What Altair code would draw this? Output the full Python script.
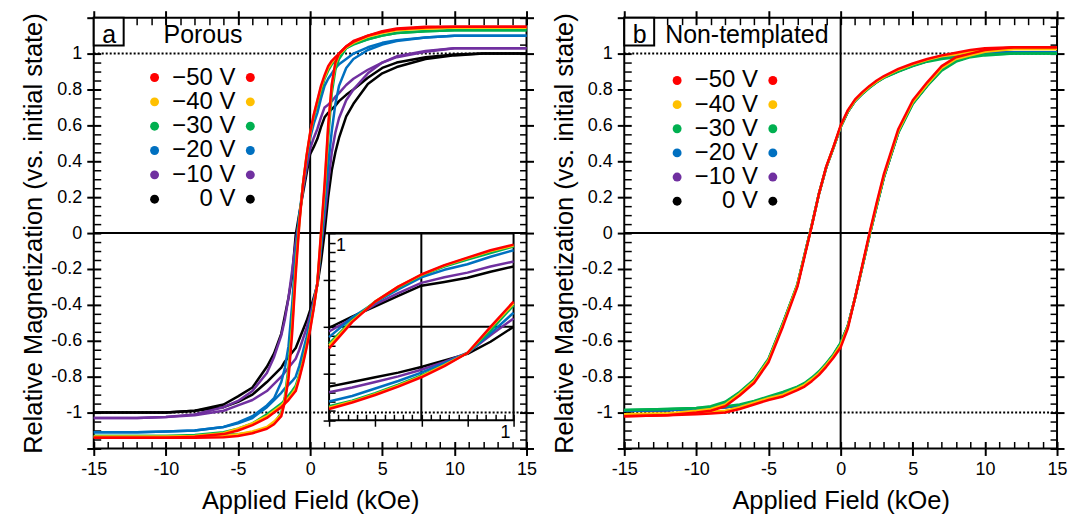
import altair as alt
import pandas as pd

FONT = "Liberation Sans"
PW, PH = 434, 432

# ---------------- series / colours ----------------
SERIES = ["0 V", "−10 V", "−20 V", "−30 V", "−40 V", "−50 V"]          # drawing order
COLORS = ["#000000", "#7030A0", "#0070C0", "#00B050", "#FFC000", "#FF0000"]
LEGEND_ORDER = ["−50 V", "−40 V", "−30 V", "−20 V", "−10 V", "0 V"]
LEGEND_COLORS = ["#FF0000", "#FFC000", "#00B050", "#0070C0", "#7030A0", "#000000"]

# ---------------- ticks ----------------
X_TICKS = [-15, -10, -5, 0, 5, 10, 15]
X_MINOR = [-14, -13, -12, -11, -9, -8, -7, -6, -4, -3, -2, -1,
           1, 2, 3, 4, 6, 7, 8, 9, 11, 12, 13, 14]
Y_TICKS = [-1.0, -0.8, -0.6, -0.4, -0.2, 0, 0.2, 0.4, 0.6, 0.8, 1.0]
Y_EDGE = [-1.2, 1.2]
Y_MINOR = [-1.15, -1.1, -1.05, -0.95, -0.9, -0.85, -0.75, -0.7, -0.65, -0.55, -0.5, -0.45,
           -0.35, -0.3, -0.25, -0.15, -0.1, -0.05, 0.05, 0.1, 0.15, 0.25, 0.3, 0.35,
           0.45, 0.5, 0.55, 0.65, 0.7, 0.75, 0.85, 0.9, 0.95, 1.05, 1.1, 1.15]
INSET_TICKS = [-1, -0.5, 0, 0.5, 1]
INSET_MINOR = [-0.9, -0.8, -0.7, -0.6, -0.4, -0.3, -0.2, -0.1,
               0.1, 0.2, 0.3, 0.4, 0.6, 0.7, 0.8, 0.9]

# ---------------- panel a : Porous ----------------
X_A = [-15, -12, -10, -8, -6, -5, -4, -3, -2.5, -2, -1.75, -1.5, -1.25, -1, -0.75,
       -0.5, -0.25, 0, 0.25, 0.5, 0.75, 1, 1.25, 1.5, 1.75, 2, 2.5, 3, 4, 5, 6, 8, 10, 12, 15]

A_UP_RED = [-1.14, -1.14, -1.14, -1.14, -1.137, -1.13, -1.115, -1.09, -1.065, -1.02, -0.94, -0.81,
            -0.56, -0.23, 0.05, 0.27, 0.43, 0.56, 0.66, 0.74, 0.82, 0.88, 0.93, 0.96, 0.98, 1.00,
            1.04, 1.065, 1.10, 1.125, 1.14, 1.15, 1.15, 1.15, 1.15]
A_LO_RED = [-1.14, -1.14, -1.14, -1.135, -1.12, -1.10, -1.07, -1.03, -1.0, -0.97, -0.95, -0.93,
            -0.905, -0.88, -0.81, -0.73, -0.64, -0.54, -0.42, -0.28, 0.0, 0.27, 0.60, 0.83, 0.95,
            1.0, 1.04, 1.07, 1.10, 1.12, 1.135, 1.145, 1.15, 1.15, 1.15]
A_UP_ORA = [-1.135, -1.135, -1.135, -1.135, -1.13, -1.12, -1.105, -1.08, -1.05, -1.01, -0.925, -0.78,
            -0.53, -0.2, 0.06, 0.27, 0.43, 0.555, 0.655, 0.735, 0.81, 0.87, 0.92, 0.95, 0.975,
            0.995, 1.035, 1.06, 1.095, 1.12, 1.135, 1.14, 1.145, 1.145, 1.145]
A_LO_ORA = [-1.135, -1.135, -1.135, -1.13, -1.115, -1.09, -1.06, -1.02, -0.99, -0.96, -0.94, -0.92,
            -0.895, -0.865, -0.80, -0.72, -0.63, -0.53, -0.41, -0.28, -0.01, 0.25, 0.58, 0.82,
            0.94, 0.995, 1.035, 1.065, 1.095, 1.115, 1.13, 1.14, 1.145, 1.145, 1.145]
A_UP_GRN = [-1.13, -1.13, -1.13, -1.13, -1.125, -1.12, -1.11, -1.085, -1.06, -1.0, -0.91, -0.75,
            -0.49, -0.18, 0.07, 0.27, 0.42, 0.55, 0.645, 0.72, 0.79, 0.86, 0.905, 0.94, 0.965,
            0.99, 1.03, 1.05, 1.08, 1.10, 1.115, 1.125, 1.13, 1.13, 1.13]
A_LO_GRN = [-1.13, -1.13, -1.13, -1.125, -1.11, -1.09, -1.06, -1.01, -0.98, -0.95, -0.93, -0.905,
            -0.88, -0.85, -0.79, -0.71, -0.62, -0.52, -0.41, -0.28, -0.04, 0.23, 0.53, 0.78,
            0.91, 0.97, 1.03, 1.055, 1.08, 1.10, 1.115, 1.125, 1.13, 1.13, 1.13]
A_UP_BLU = [-1.11, -1.11, -1.105, -1.10, -1.08, -1.055, -1.02, -0.96, -0.92, -0.83, -0.75, -0.63,
            -0.40, -0.11, 0.10, 0.26, 0.40, 0.53, 0.61, 0.67, 0.75, 0.82, 0.86, 0.89, 0.92,
            0.94, 0.97, 1.0, 1.035, 1.06, 1.075, 1.09, 1.10, 1.10, 1.10]
A_LO_BLU = [-1.11, -1.11, -1.105, -1.10, -1.08, -1.06, -1.03, -0.97, -0.93, -0.89, -0.865, -0.845,
            -0.825, -0.80, -0.74, -0.66, -0.58, -0.49, -0.39, -0.28, -0.07, 0.15, 0.38, 0.57,
            0.72, 0.82, 0.92, 0.97, 1.02, 1.05, 1.07, 1.09, 1.10, 1.10, 1.10]
A_UP_PUR = [-1.03, -1.03, -1.025, -1.01, -0.97, -0.935, -0.88, -0.78, -0.69, -0.57, -0.48, -0.36,
            -0.21, -0.05, 0.09, 0.24, 0.36, 0.47, 0.53, 0.58, 0.645, 0.70, 0.715, 0.735, 0.76,
            0.78, 0.825, 0.86, 0.91, 0.95, 0.98, 1.01, 1.03, 1.03, 1.03]
A_LO_PUR = [-1.03, -1.03, -1.025, -1.015, -0.99, -0.96, -0.93, -0.88, -0.84, -0.80, -0.775, -0.75,
            -0.725, -0.70, -0.65, -0.59, -0.53, -0.46, -0.375, -0.28, -0.09, 0.09, 0.28, 0.45,
            0.56, 0.64, 0.74, 0.80, 0.89, 0.95, 0.985, 1.015, 1.03, 1.03, 1.03]
A_UP_BLK = [-1.0, -1.0, -1.0, -0.99, -0.955, -0.91, -0.86, -0.745, -0.67, -0.56, -0.46, -0.36,
            -0.24, -0.01, 0.11, 0.22, 0.33, 0.44, 0.48, 0.525, 0.59, 0.645, 0.67, 0.69, 0.71,
            0.735, 0.77, 0.80, 0.865, 0.92, 0.95, 0.98, 0.995, 1.0, 1.0]
A_LO_BLK = [-1.0, -1.0, -1.0, -0.99, -0.97, -0.94, -0.90, -0.83, -0.79, -0.75, -0.715, -0.69,
            -0.665, -0.64, -0.59, -0.54, -0.49, -0.43, -0.36, -0.29, -0.16, 0.0, 0.2, 0.35,
            0.45, 0.53, 0.65, 0.72, 0.83, 0.89, 0.925, 0.97, 0.99, 1.0, 1.0]

# ---------------- panel b : Non-templated ----------------
X_B = [-15, -12, -10, -9, -8, -7, -6, -5, -4, -3, -2.5, -2, -1.5, -1, -0.5, 0,
       0.5, 1, 1.5, 2, 2.5, 3, 4, 5, 6, 7, 8, 9, 10, 12, 15]

B_UP_RED = [-1.02, -1.015, -1.0, -0.99, -0.965, -0.905, -0.835, -0.72, -0.52, -0.30, -0.13, 0.04,
            0.22, 0.37, 0.48, 0.60, 0.685, 0.745, 0.785, 0.82, 0.85, 0.875, 0.915, 0.945, 0.97,
            0.99, 1.005, 1.02, 1.03, 1.035, 1.035]
B_LO_RED = [-1.02, -1.015, -1.01, -1.005, -1.0, -0.98, -0.955, -0.93, -0.91, -0.875, -0.855, -0.825,
            -0.79, -0.745, -0.695, -0.637, -0.53, -0.36, -0.18, 0.0, 0.17, 0.33, 0.58, 0.74,
            0.84, 0.93, 0.98, 1.0, 1.02, 1.035, 1.035]
B_UP_ORA = [-1.01, -1.005, -0.99, -0.98, -0.955, -0.895, -0.825, -0.71, -0.51, -0.29, -0.125, 0.042,
            0.22, 0.368, 0.478, 0.595, 0.68, 0.74, 0.78, 0.815, 0.845, 0.87, 0.91, 0.94, 0.965,
            0.985, 0.995, 1.01, 1.02, 1.025, 1.025]
B_LO_ORA = [-1.01, -1.005, -1.0, -0.995, -0.99, -0.97, -0.945, -0.92, -0.9, -0.865, -0.845, -0.815,
            -0.78, -0.735, -0.685, -0.625, -0.522, -0.36, -0.185, -0.008, 0.16, 0.32, 0.57, 0.73,
            0.83, 0.92, 0.97, 0.99, 1.01, 1.025, 1.025]
B_UP_GRN = [-0.985, -0.98, -0.975, -0.965, -0.94, -0.885, -0.815, -0.70, -0.50, -0.285, -0.12, 0.045,
            0.22, 0.365, 0.475, 0.59, 0.675, 0.735, 0.775, 0.81, 0.84, 0.865, 0.90, 0.93, 0.955,
            0.97, 0.98, 0.99, 0.995, 1.0, 1.0]
B_LO_GRN = [-0.985, -0.98, -0.975, -0.97, -0.965, -0.955, -0.935, -0.91, -0.885, -0.855, -0.835,
            -0.805, -0.77, -0.725, -0.675, -0.61, -0.515, -0.36, -0.19, -0.015, 0.15, 0.31, 0.56,
            0.72, 0.82, 0.905, 0.955, 0.98, 0.99, 1.0, 1.0]
B_UP_BLU = [-0.99, -0.985, -0.98, -0.97, -0.945, -0.89, -0.82, -0.705, -0.505, -0.29, -0.122, 0.044,
            0.22, 0.366, 0.476, 0.592, 0.677, 0.737, 0.777, 0.812, 0.842, 0.867, 0.903, 0.933,
            0.958, 0.975, 0.987, 0.997, 1.003, 1.008, 1.008]
B_LO_BLU = [-0.99, -0.985, -0.98, -0.975, -0.97, -0.96, -0.94, -0.915, -0.89, -0.86, -0.84, -0.81,
            -0.775, -0.73, -0.68, -0.615, -0.518, -0.36, -0.188, -0.012, 0.152, 0.313, 0.563,
            0.723, 0.823, 0.91, 0.96, 0.985, 0.997, 1.008, 1.008]
B_UP_PUR = [-0.99, -0.985, -0.98, -0.97, -0.945, -0.89, -0.82, -0.705, -0.505, -0.29, -0.122, 0.044,
            0.22, 0.366, 0.476, 0.592, 0.677, 0.737, 0.777, 0.812, 0.842, 0.867, 0.903, 0.933,
            0.958, 0.975, 0.987, 0.997, 1.003, 1.008, 1.008]
B_LO_PUR = [-0.99, -0.985, -0.98, -0.975, -0.97, -0.96, -0.94, -0.915, -0.89, -0.86, -0.84, -0.81,
            -0.775, -0.73, -0.68, -0.615, -0.518, -0.36, -0.188, -0.012, 0.152, 0.313, 0.563,
            0.723, 0.823, 0.91, 0.96, 0.985, 0.997, 1.008, 1.008]
B_UP_BLK = [-0.99, -0.985, -0.98, -0.97, -0.945, -0.89, -0.82, -0.705, -0.505, -0.29, -0.122, 0.044,
            0.22, 0.366, 0.476, 0.592, 0.677, 0.737, 0.777, 0.812, 0.842, 0.867, 0.903, 0.933,
            0.958, 0.975, 0.987, 0.997, 1.003, 1.008, 1.008]
B_LO_BLK = [-0.99, -0.985, -0.98, -0.975, -0.97, -0.96, -0.94, -0.915, -0.89, -0.86, -0.84, -0.81,
            -0.775, -0.73, -0.68, -0.615, -0.518, -0.36, -0.188, -0.012, 0.152, 0.313, 0.563,
            0.723, 0.823, 0.91, 0.96, 0.985, 0.997, 1.008, 1.008]

A_UP = dict(zip(SERIES, [A_UP_BLK, A_UP_PUR, A_UP_BLU, A_UP_GRN, A_UP_ORA, A_UP_RED]))
A_LO = dict(zip(SERIES, [A_LO_BLK, A_LO_PUR, A_LO_BLU, A_LO_GRN, A_LO_ORA, A_LO_RED]))
B_UP = dict(zip(SERIES, [B_UP_BLK, B_UP_PUR, B_UP_BLU, B_UP_GRN, B_UP_ORA, B_UP_RED]))
B_LO = dict(zip(SERIES, [B_LO_BLK, B_LO_PUR, B_LO_BLU, B_LO_GRN, B_LO_ORA, B_LO_RED]))


def long_df(xs, up, lo):
    rows = []
    for s in SERIES:
        for x, y in zip(xs, up[s]):
            rows.append({"series": s, "branch": "up", "x": x, "y": y})
        for x, y in zip(xs, lo[s]):
            rows.append({"series": s, "branch": "lo", "x": x, "y": y})
    return pd.DataFrame(rows)


DF_A = long_df(X_A, A_UP, A_LO)
DF_B = long_df(X_B, B_UP, B_LO)
ANCHOR = pd.DataFrame({"x": [0.0], "y": [0.0]})

LAB = "datum.value < 0 ? '-' + (-datum.value) : '' + datum.value"


def sx():
    return alt.Scale(domain=[-15, 15], nice=False, zero=False)


def sy():
    return alt.Scale(domain=[-1.2, 1.2], nice=False, zero=False)


def major(orient, values, labels=False, title=None, title_pad=2, size=14, off=-7):
    kw = dict(orient=orient, values=values, tickSize=size, offset=off, tickWidth=2,
              tickColor="black", domain=False, grid=False, title=title)
    if labels:
        kw.update(labels=True, labelExpr=LAB, labelFont=FONT, labelFontSize=18,
                  labelColor="black", labelPadding=5, labelFlush=False, labelOverlap=False)
    else:
        kw.update(labels=False)
    if title:
        kw.update(titleFont=FONT, titleFontSize=25.5, titleFontWeight="normal",
                  titleColor="black", titlePadding=title_pad)
    return alt.Axis(**kw)


def minor(orient, values, size=7, off=-7):
    return alt.Axis(orient=orient, values=values, tickSize=size, offset=off, tickWidth=1.5,
                    tickColor="black", domain=False, grid=False, labels=False, title=None)


def axis_chart(ax_x, ax_y, scx=sx, scy=sy):
    enc = {"y": alt.Y("y:Q", scale=scy(), axis=ax_y)}
    if ax_x is not None:
        enc["x"] = alt.X("x:Q", scale=scx(), axis=ax_x)
    else:
        enc["x"] = alt.X("x:Q", scale=scx(), axis=None)
    return alt.Chart(ANCHOR).mark_point(opacity=0).encode(**enc)


def panel(df, leg_x, leg_rows, letter, name, name_x, with_inset):
    layers = [
        axis_chart(major("bottom", X_TICKS, True, "Applied Field (kOe)", 10),
                   major("left", Y_TICKS, True, "Relative Magnetization (vs. initial state)", 4)),
        axis_chart(minor("bottom", X_MINOR), minor("left", Y_MINOR)),
        axis_chart(major("top", X_TICKS), major("right", Y_TICKS + Y_EDGE)),
        axis_chart(minor("top", X_MINOR), minor("right", Y_MINOR)),
        axis_chart(None, major("left", Y_EDGE)),
    ]
    # reference lines
    layers.append(alt.Chart(pd.DataFrame({"y": [-1.0, 1.0]})).mark_rule(
        color="black", strokeWidth=2, strokeDash=[2, 2]).encode(
        y=alt.Y("y:Q", scale=sy(), axis=None)))
    layers.append(alt.Chart(pd.DataFrame({"x": [0.0]})).mark_rule(
        color="black", strokeWidth=2).encode(x=alt.X("x:Q", scale=sx(), axis=None)))
    layers.append(alt.Chart(pd.DataFrame({"y": [0.0]})).mark_rule(
        color="black", strokeWidth=2).encode(y=alt.Y("y:Q", scale=sy(), axis=None)))
    # data
    for s, c in zip(SERIES, COLORS):
        layers.append(alt.Chart(df[df.series == s]).mark_line(
            color=c, strokeWidth=2.5, strokeJoin="round").encode(
            x=alt.X("x:Q", scale=sx(), axis=None),
            y=alt.Y("y:Q", scale=sy(), axis=None),
            detail="branch:N"))

    if with_inset:
        def xi():
            return alt.Scale(domain=[-1, 1], range=[236, 421], nice=False, zero=False)

        def yi():
            return alt.Scale(domain=[-1, 1], range=[403.7, 216.3], nice=False, zero=False)

        frame = pd.DataFrame({"x0": [-1], "x1": [1], "y0": [-1], "y1": [1]})
        layers.append(alt.Chart(frame).mark_rect(
            fill="white", fillOpacity=0, stroke="black", strokeWidth=2).encode(
            x=alt.X("x0:Q", scale=xi(), axis=None), x2="x1:Q",
            y=alt.Y("y0:Q", scale=yi(), axis=None), y2="y1:Q"))
        vz = pd.DataFrame({"x": [0], "y0": [-1], "y1": [1]})
        layers.append(alt.Chart(vz).mark_rule(color="black", strokeWidth=2).encode(
            x=alt.X("x:Q", scale=xi(), axis=None),
            y=alt.Y("y0:Q", scale=yi(), axis=None), y2="y1:Q"))
        hz = pd.DataFrame({"y": [0], "x0": [-1], "x1": [1]})
        layers.append(alt.Chart(hz).mark_rule(color="black", strokeWidth=2).encode(
            y=alt.Y("y:Q", scale=yi(), axis=None),
            x=alt.X("x0:Q", scale=xi(), axis=None), x2="x1:Q"))
        sub_all = df[(df.x >= -1) & (df.x <= 1)]
        for s, c in zip(SERIES, COLORS):
            layers.append(alt.Chart(sub_all[sub_all.series == s]).mark_line(
                color=c, strokeWidth=2.5, strokeJoin="round").encode(
                x=alt.X("x:Q", scale=xi(), axis=None),
                y=alt.Y("y:Q", scale=yi(), axis=None),
                detail="branch:N"))
        left_off = -(236 + 6)
        bot_off = -(PH - 403.7 + 6)
        layers.append(axis_chart(minor("bottom", INSET_TICKS, 12, bot_off),
                                 minor("left", INSET_TICKS, 12, left_off), xi, yi))
        layers.append(axis_chart(minor("bottom", INSET_MINOR, 6, bot_off),
                                 minor("left", INSET_MINOR, 6, left_off), xi, yi))
        lab = pd.DataFrame({"x": [-1, 1], "y": [1, -1], "t": ["1", "1"]})
        layers.append(alt.Chart(lab.iloc[[0]]).mark_text(
            font=FONT, fontSize=18, align="left", baseline="top", dx=7, dy=4, color="black").encode(
            x=alt.X("x:Q", scale=xi(), axis=None), y=alt.Y("y:Q", scale=yi(), axis=None), text="t:N"))
        layers.append(alt.Chart(lab.iloc[[1]]).mark_text(
            font=FONT, fontSize=18, align="right", baseline="top", dx=-3, dy=4, color="black").encode(
            x=alt.X("x:Q", scale=xi(), axis=None), y=alt.Y("y:Q", scale=yi(), axis=None), text="t:N"))

    # legend
    leg = pd.DataFrame({"label": LEGEND_ORDER, "row": list(range(6))})
    ly = alt.Y("row:Q", scale=alt.Scale(domain=[0, 5], range=leg_rows, nice=False, zero=False), axis=None)
    lc = alt.Color("label:N", scale=alt.Scale(domain=LEGEND_ORDER, range=LEGEND_COLORS), legend=None)
    layers.append(alt.Chart(leg).mark_circle(size=80, opacity=1).encode(
        x=alt.value(leg_x[0]), y=ly, color=lc))
    layers.append(alt.Chart(leg).mark_text(
        font=FONT, fontSize=24, align="right", baseline="middle", color="black").encode(
        x=alt.value(leg_x[1]), y=ly, text="label:N"))
    layers.append(alt.Chart(leg).mark_circle(size=80, opacity=1).encode(
        x=alt.value(leg_x[2]), y=ly, color=lc))

    # panel label
    layers.append(alt.Chart(ANCHOR).mark_rect(fill="white", stroke="black", strokeWidth=2).encode(
        x=alt.value(0), x2=alt.value(30), y=alt.value(0), y2=alt.value(28)))
    layers.append(alt.Chart(ANCHOR).mark_text(
        text=letter, font=FONT, fontSize=25, align="center", baseline="alphabetic", color="black").encode(
        x=alt.value(15.5), y=alt.value(25)))
    layers.append(alt.Chart(ANCHOR).mark_text(
        text=name, font=FONT, fontSize=25, align="left", baseline="alphabetic", color="black").encode(
        x=alt.value(name_x), y=alt.value(25.5)))

    return alt.layer(*layers).resolve_scale(x="independent", y="independent").properties(
        width=PW, height=PH)


pa = panel(DF_A, [61, 142, 157], [60, 182], "a", "Porous", 70, True)
pb = panel(DF_B, [53, 134, 149], [63, 184], "b", "Non-templated", 41, False)

chart = alt.hconcat(pa, pb, spacing=12).properties(
    padding={"left": 12, "top": 0, "right": 0, "bottom": 0}
).configure_view(stroke="black", strokeWidth=2)

chart.save("out.html", embed_options={"renderer": "svg", "actions": False})
